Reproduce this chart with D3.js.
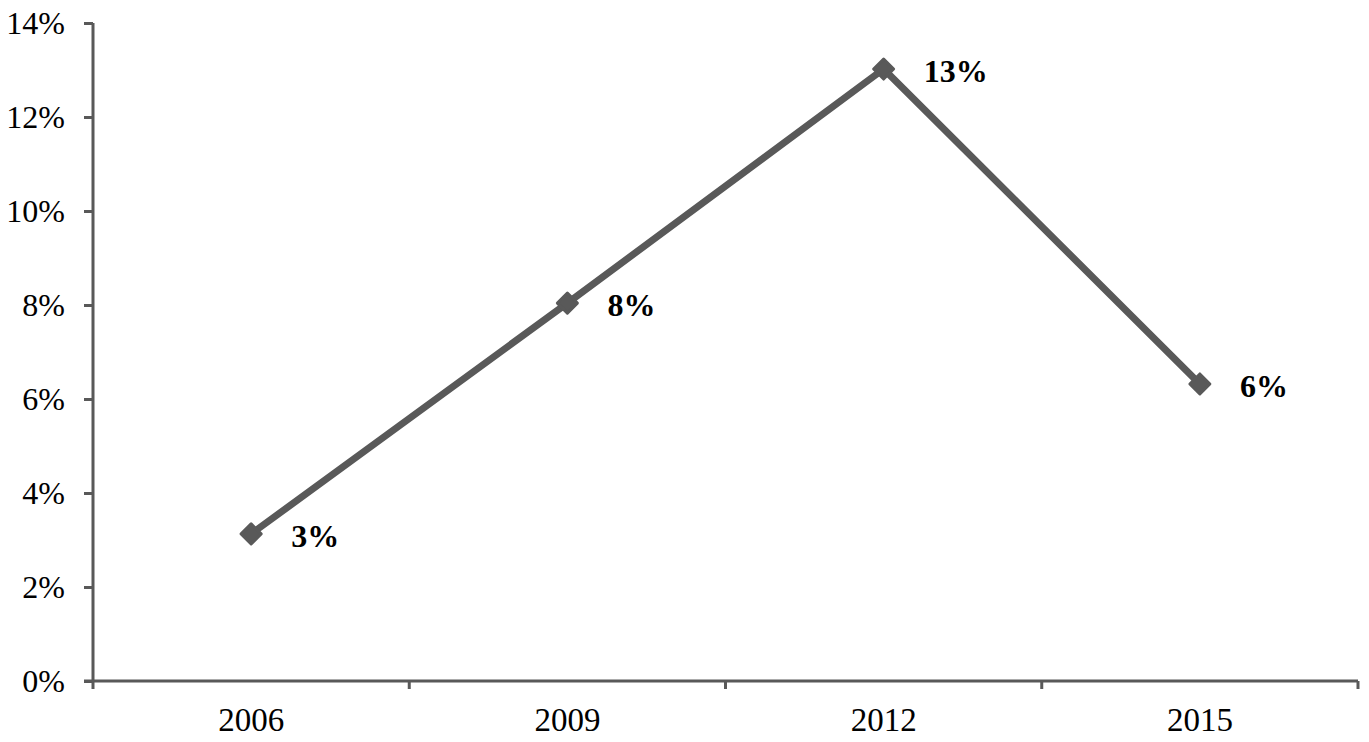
<!DOCTYPE html>
<html><head><meta charset="utf-8">
<script src="https://cdn.jsdelivr.net/npm/d3@7"></script>
<style>body{margin:0;background:#fff}svg{display:block}</style>
</head><body>
<svg id="c" width="1369" height="742"></svg>
<script>
const categories = ["2006", "2009", "2012", "2015"];
const values = [3.13, 8.04, 13.02, 6.32];
const labels = ["3%", "8%", "13%", "6%"];
const yTicks = [0, 2, 4, 6, 8, 10, 12, 14];

(function () {
const svg = d3.select("#c");
const gray = "#595959";
const font = "'Liberation Serif','Times New Roman',serif";
const mLeft = 93, mRight = 1358, mTop = 23, mBottom = 681;

const x = d3.scaleBand().domain(categories).range([mLeft, mRight]);
const y = d3.scaleLinear().domain([0, 14]).range([mBottom, mTop]);

// y axis
const ya = svg.append("g").attr("transform", `translate(${mLeft},0)`)
  .call(d3.axisLeft(y).tickValues(yTicks).tickFormat(d => d + "%").tickSize(9).tickPadding(19));
ya.select(".domain").attr("stroke", gray).attr("stroke-width", 3).attr("d", `M0,${mTop}V${mBottom}`);
ya.selectAll(".tick line").attr("stroke", gray).attr("stroke-width", 3);
ya.selectAll(".tick text").attr("font-family", font).attr("font-size", 32).attr("fill", "#000");

// x axis
const xa = svg.append("g").attr("transform", `translate(0,${mBottom})`)
  .call(d3.axisBottom(x).tickSize(0).tickPadding(27));
xa.select(".domain").attr("stroke", gray).attr("stroke-width", 3).attr("d", `M${mLeft - 9},0H${mRight}`);
xa.selectAll(".tick text").attr("font-family", font).attr("font-size", 33).attr("fill", "#000");
// category boundary ticks
const bounds = categories.map(c => x(c)).concat([x(categories[categories.length - 1]) + x.bandwidth()]);
svg.append("g").selectAll("line").data(bounds).join("line")
  .attr("x1", d => d).attr("x2", d => d).attr("y1", mBottom).attr("y2", mBottom + 8)
  .attr("stroke", gray).attr("stroke-width", 3);

const cx = c => x(c) + x.bandwidth() / 2;
const pts = categories.map((c, i) => ({c, v: values[i], l: labels[i]}));

svg.append("path").datum(pts)
  .attr("d", d3.line().x(d => cx(d.c)).y(d => y(d.v)))
  .attr("fill", "none").attr("stroke", gray).attr("stroke-width", 7).attr("stroke-linejoin", "round");

svg.append("g").selectAll("path").data(pts).join("path")
  .attr("d", d3.symbol(d3.symbolSquare, 200))
  .attr("transform", d => `translate(${cx(d.c)},${y(d.v)}) rotate(45)`)
  .attr("fill", gray).attr("stroke", gray).attr("stroke-width", 3).attr("stroke-linejoin", "round");

svg.append("g").selectAll("text").data(pts).join("text")
  .attr("x", d => cx(d.c) + 40).attr("y", d => y(d.v) + 2)
  .attr("dy", "0.35em")
  .attr("font-family", font).attr("font-size", 32).attr("font-weight", "bold").attr("fill", "#000")
  .text(d => d.l);
})();
</script>
</body></html>
